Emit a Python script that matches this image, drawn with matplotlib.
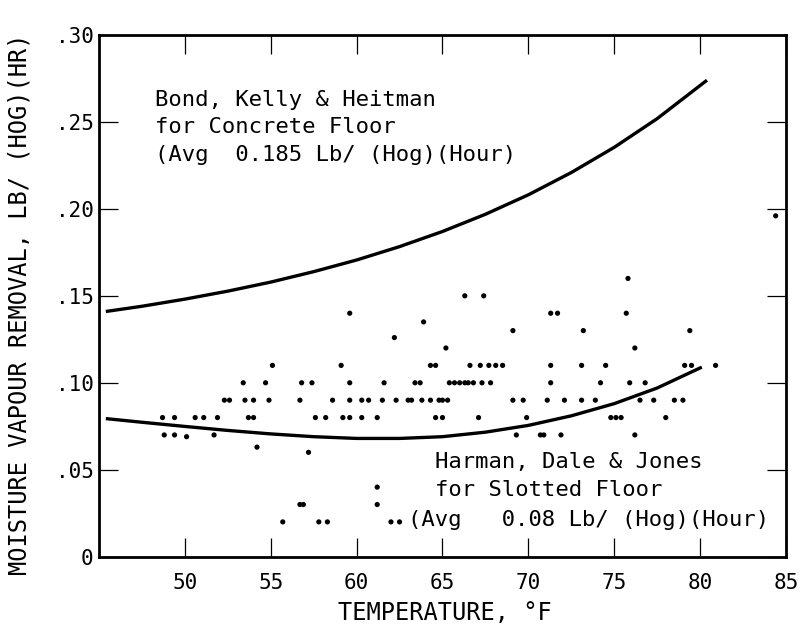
import matplotlib
matplotlib.use("Agg")
import matplotlib.pyplot as plt
import numpy as np

# observed moisture removal (lb/hog/hr), grouped by reading, with the temperatures (F) at which each occurred
rate_levels = [0.02, 0.03, 0.04, 0.06, 0.063, 0.069, 0.07, 0.08, 0.09,
               0.10, 0.11, 0.12, 0.126, 0.13, 0.135, 0.14, 0.15, 0.16, 0.196]
temps_at_level = [
    [55.7, 57.8, 58.3, 62.0, 62.5],
    [56.7, 56.9, 61.2],
    [61.2],
    [57.2],
    [54.2],
    [50.1],
    [48.8, 49.4, 51.7, 69.3, 70.7, 70.9, 71.9, 76.2],
    [48.7, 49.4, 50.6, 51.1, 51.9, 53.7, 54.0, 57.6, 58.2, 59.2, 59.6, 60.3,
     61.2, 64.6, 65.0, 67.1, 69.9, 74.8, 75.1, 75.4, 78.0],
    [52.3, 52.6, 53.5, 54.0, 54.9, 56.7, 58.6, 59.6, 60.3, 60.7, 61.5, 62.3,
     63.0, 63.2, 63.8, 64.3, 64.8, 65.0, 65.3, 69.1, 69.7, 71.1, 72.1, 73.1,
     73.9, 76.5, 77.3, 78.5, 79.0],
    [53.4, 54.7, 56.8, 57.4, 59.6, 61.6, 63.4, 63.7, 65.4, 65.7, 66.0, 66.3,
     66.5, 66.8, 67.3, 67.8, 71.3, 74.2, 75.9, 76.8],
    [55.1, 59.1, 64.3, 64.6, 66.6, 67.2, 67.7, 68.1, 68.5, 71.3, 73.1, 74.5,
     79.1, 79.5, 80.9],
    [65.2, 76.2],
    [62.2],
    [69.1, 73.2, 79.4],
    [63.9],
    [59.6, 71.3, 71.7, 75.7],
    [66.3, 67.4],
    [75.8],
    [84.4],
]

# Bond, Kelly & Heitman curve (concrete floor)
concrete_temp = [45.4, 47.5, 50, 52.5, 55, 57.5, 60, 62.5, 65, 67.5, 70, 72.5, 75, 77.5, 80.4]
concrete_rate = [0.1410, 0.1440, 0.1481, 0.1527, 0.1579, 0.1639, 0.1706, 0.1783,
                 0.1870, 0.1969, 0.2081, 0.2209, 0.2354, 0.2519, 0.2740]

# Harman, Dale & Jones curve (slotted floor)
slotted_temp = [45.4, 47.5, 50, 52.5, 55, 57.5, 60, 62.5, 65, 67.5, 70, 72.5, 75, 77.5, 80.1]
slotted_rate = [0.0794, 0.0773, 0.0749, 0.0726, 0.0706, 0.0690, 0.0680, 0.0680,
                0.0690, 0.0716, 0.0755, 0.0810, 0.0880, 0.0970, 0.1090]

x_ticks = [50, 55, 60, 65, 70, 75, 80, 85]
y_ticks = [0, 0.05, 0.10, 0.15, 0.20, 0.25, 0.30]
y_ticklabels = ["0", ".05", ".10", ".15", ".20", ".25", ".30"]

obs_temp = np.concatenate([np.array(t) for t in temps_at_level])
obs_rate = np.repeat(rate_levels, [len(t) for t in temps_at_level])

plt.rcParams["font.family"] = ["DejaVu Sans Mono", "DejaVu Sans"]

fig = plt.figure(figsize=(8.04, 6.42), dpi=100)
ax = fig.add_axes([0.1231, 0.1329, 0.8545, 0.8126])

ax.plot(concrete_temp, concrete_rate, color="black", lw=2.4, solid_capstyle="butt")
ax.plot(slotted_temp, slotted_rate, color="black", lw=2.4, solid_capstyle="butt")
ax.scatter(obs_temp, obs_rate, s=14, color="black", edgecolors="none", zorder=3)

ax.set_xlim(45, 85)
ax.set_ylim(0, 0.30)
ax.set_xticks(x_ticks)
ax.set_yticks(y_ticks)
ax.set_yticklabels(y_ticklabels)

for s in ax.spines.values():
    s.set_linewidth(2.0)
ax.tick_params(direction="in", length=14, width=0.9, top=True, right=True,
               labelsize=15)
ax.tick_params(axis="x", pad=12)
ax.tick_params(axis="y", pad=4)

ax.set_xlabel("TEMPERATURE, °F", fontsize=17)
ax.set_ylabel("MOISTURE VAPOUR REMOVAL, LB/ (HOG)(HR)", fontsize=17)
ax.xaxis.set_label_coords(0.504, -0.085)
ax.yaxis.set_label_coords(-0.098, 0.484)

ax.text(48.25, 0.2626, "Bond, Kelly & Heitman", fontsize=16, va="center")
ax.text(48.25, 0.2470, "for Concrete Floor", fontsize=16, va="center")
ax.text(48.25, 0.2310, "(Avg  0.185 Lb/ (Hog)(Hour)", fontsize=16, va="center")

ax.text(64.55, 0.0545, "Harman, Dale & Jones", fontsize=16, va="center")
ax.text(64.55, 0.0385, "for Slotted Floor", fontsize=16, va="center")
ax.text(63.0, 0.0210, "(Avg   0.08 Lb/ (Hog)(Hour)", fontsize=16, va="center")

fig.savefig("out.png", dpi=100)
